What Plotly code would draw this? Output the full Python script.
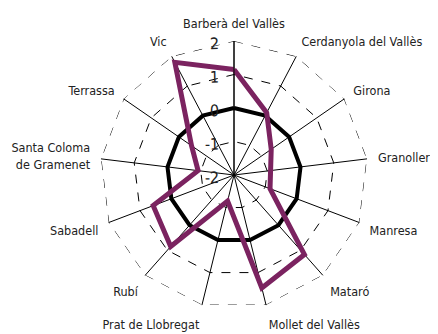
import plotly.graph_objects as go

# categories (clockwise from the top)
municipis = ["Barberà del Vallès", "Cerdanyola del Vallès", "Girona", "Granollers",
             "Manresa", "Mataró", "Mollet del Vallès", "Prat de Llobregat", "Rubí",
             "Sabadell", "Santa Coloma<br>de Gramenet", "Terrassa", "Vic"]

valors = [1.15, 0.1, -0.65, -0.9, -0.85, 1.17, 1.47, -1.2, 0.85, 0.58, -0.92, -0.46, 1.8]
referencia = [0, 0, 0, 0, 0, 0, 0, 0, 0, 0, 0, 0, 0]
vora = [2, 2, 2, 2, 2, 2, 2, 2, 2, 2, 2, 2, 2]

radial_ticks = [-2, -1, 0, 1, 2]
radial_labels = ["-2", "-1", "0", "1", "2"]

font_name = "DejaVu Sans Condensed, Liberation Sans Narrow, DejaVu Sans, sans-serif"


def closed(lst):
    return lst + lst[:1]


fig = go.Figure()

# dashed outer border
fig.add_trace(go.Scatterpolar(
    r=closed(vora), theta=closed(municipis),
    mode="lines", line=dict(color="black", width=1, dash="dash"),
    hoverinfo="skip", showlegend=False))

# thick zero ring
fig.add_trace(go.Scatterpolar(
    r=closed(referencia), theta=closed(municipis),
    mode="lines", line=dict(color="black", width=4),
    hoverinfo="skip", showlegend=False))

fig.add_trace(go.Scatterpolar(
    r=closed(valors), theta=closed(municipis),
    mode="lines", line=dict(color="#7b2360", width=5),
    showlegend=False))

fig.update_layout(
    width=438, height=334,
    margin=dict(l=92, r=78, t=33, b=33, autoexpand=False),
    paper_bgcolor="white",
    font=dict(family=font_name, size=13, color="#222"),
    polar=dict(
        bgcolor="white",
        gridshape="linear",
        radialaxis=dict(
            range=[-2, 2],
            tickvals=radial_ticks, ticktext=radial_labels,
            angle=90, side="counterclockwise", tickangle=89,
            showline=True, linecolor="black", linewidth=1,
            gridcolor="black", griddash="dash", gridwidth=1,
            ticks="", tickfont=dict(size=16, color="#222"),
        ),
        angularaxis=dict(
            direction="clockwise", rotation=90,
            showline=False,
            gridcolor="black", gridwidth=1,
            ticks="outside", ticklen=8, tickcolor="rgba(0,0,0,0)",
            tickfont=dict(size=12.5, color="#222"),
        ),
    ),
)

fig.write_html("out.html")
